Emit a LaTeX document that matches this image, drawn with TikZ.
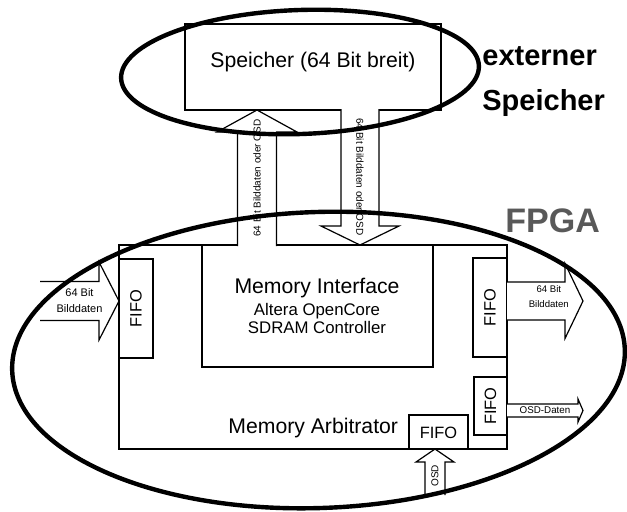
\documentclass[tikz,border=0pt]{standalone}
\usepackage{fontspec}
\setmainfont{Liberation Sans}
\usetikzlibrary{shapes.geometric,fit,calc}

\tikzset{
  unitbox/.style={rectangle, draw=black, line width=0.6pt, inner sep=0pt, outer sep=0pt},
  ringline/.style={ellipse, draw=black, line width=2.2pt, inner sep=0pt, outer sep=0pt},
  bigtext/.style={font=\fontsize{10.6}{12}\selectfont, inner sep=0pt},
  subtext/.style={font=\fontsize{8.4}{10}\selectfont, inner sep=0pt},
  fifotext/.style={font=\fontsize{8.2}{10}\selectfont, inner sep=0pt},
  titletext/.style={font=\fontsize{14.5}{17}\selectfont\bfseries, inner sep=0pt},
  chiptext/.style={font=\fontsize{17}{20}\selectfont\bfseries, text=black!65, inner sep=0pt},
  arrowlabel/.style={font=\fontsize{5}{6}\selectfont, inner sep=0pt, align=center},
  blockarrowline/.style={draw=black, fill=white, line width=0.6pt, line join=miter},
}

% block arrow: [label options]{tail}{tip}{half shaft}{half head}{head length}{label}
\newcommand{\blockarrow}[7][]{%
  \coordinate (ba-base) at ($(#3)!#6!(#2)$);
  \path[blockarrowline]
    ($(#2)!#4!90:(#3)$) -- ($(ba-base)!#4!90:(#3)$) -- ($(ba-base)!#5!90:(#3)$)
    -- (#3) -- ($(ba-base)!#5!-90:(#3)$) -- ($(ba-base)!#4!-90:(#3)$) -- ($(#2)!#4!-90:(#3)$);
  \path (#2) -- node[arrowlabel, sloped, #1] {#7} (#3);
}

\begin{document}
\begin{tikzpicture}[x=0.5pt, y=-0.5pt]
  \useasboundingbox (0,0) rectangle (627,511);

  % boxes
  \node[unitbox, fit={(185,24) (441,110)}] (speicher) {};
  \node[unitbox, fit={(119,245) (507,449)}] (arbiter) {};
  \node[unitbox, fit={(202,245) (433,367)}] (meminterface) {};
  \node[unitbox, fill=white, fit={(119,259) (153,358)}] (fifoIn) {};
  \node[unitbox, fill=white, fit={(473,258) (507,357)}] (fifoOut) {};
  \node[unitbox, fill=white, fit={(474,377) (507,435)}] (fifoOsdOut) {};
  \node[unitbox, fill=white, fit={(409,415) (468,449)}] (fifoOsdIn) {};

  % arrow ends
  \coordinate (upTail) at (257,246);
  \coordinate (upTip) at (upTail |- speicher.south);
  \coordinate (downTail) at (360,109);
  \coordinate (downTip) at (downTail |- arbiter.north);
  \coordinate (inTail) at (40,301);
  \coordinate (inTip) at (inTail -| fifoIn.west);
  \coordinate (outTip) at (583,301);
  \coordinate (outTail) at (outTip -| fifoOut.east);
  \coordinate (osdOutTip) at (583,410.5);
  \coordinate (osdOutTail) at (osdOutTip -| fifoOsdOut.east);
  \coordinate (osdInTail) at (435,495);
  \coordinate (osdInTip) at (osdInTail |- fifoOsdIn.south);

  \blockarrow{upTail}{upTip}{9.75pt}{20pt}{11pt}{64 Bit Bilddaten oder OSD}
  \blockarrow{downTail}{downTip}{9.5pt}{19.5pt}{9.5pt}{64 Bit Bilddaten oder OSD}
  \blockarrow[font=\fontsize{5.5}{8}\selectfont]{inTail}{inTip}{9.75pt}{19.5pt}{10pt}{64 Bit\\Bilddaten}
  \blockarrow[font=\fontsize{4.8}{7.5}\selectfont, pos=0.55, yshift=2pt]{outTail}{outTip}{9.5pt}{18.75pt}{9pt}{64 Bit\\Bilddaten}
  \blockarrow[font=\fontsize{4.9}{6}\selectfont]{osdOutTail}{osdOutTip}{3.25pt}{5.75pt}{2.5pt}{OSD-Daten}
  \blockarrow[pos=0.42]{osdInTail}{osdInTip}{5pt}{9.5pt}{6.5pt}{OSD}

  % texts
  \node[bigtext, anchor=base] (speichertxt) at (313,67) {Speicher (64 Bit breit)};
  \node[bigtext, anchor=base] (mitxt) at (317,293) {Memory Interface};
  \node[subtext, anchor=base] (alteratxt) at (317,315) {Altera OpenCore};
  \node[subtext, anchor=base] (sdramtxt) at (317,333) {SDRAM Controller};
  \node[bigtext, anchor=base west] (arbitertxt) at (228,433) {Memory Arbitrator};
  \node[fifotext, rotate=90] (fifoIntxt) at (fifoIn.center) {FIFO};
  \node[fifotext, rotate=90] (fifoOuttxt) at (fifoOut.center) {FIFO};
  \node[fifotext, rotate=90] (fifoOsdOuttxt) at (fifoOsdOut.center) {FIFO};
  \node[fifotext, anchor=base] (fifoOsdIntxt) at (438.5,438) {FIFO};

  \node[titletext, anchor=base west] (externtxt) at (482,65) {externer};
  \node[titletext, anchor=base west] (externtxt2) at (482,110) {Speicher};
  \node[chiptext, anchor=base west] (fpgatxt) at (505,232) {FPGA};

  % rings
  \node[ringline, minimum width=179pt, minimum height=62pt, rotate=2] (extring) at (300,72) {};
  \node[ringline, minimum width=306.5pt, minimum height=148pt, rotate=2] (fpgaring) at (318.5,360) {};
\end{tikzpicture}
\end{document}
